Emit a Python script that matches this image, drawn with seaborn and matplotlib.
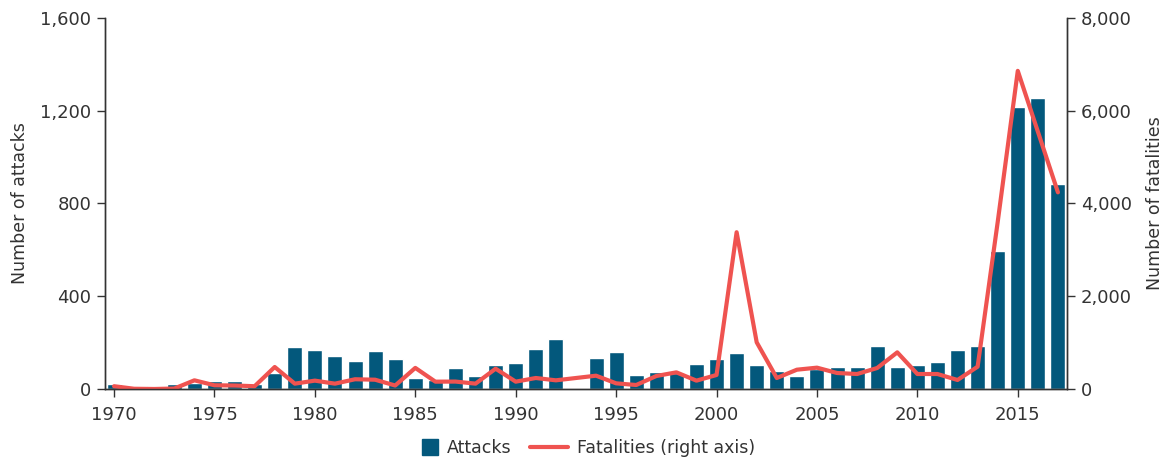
import numpy as np
import pandas as pd
import matplotlib
matplotlib.use('Agg')
import matplotlib.pyplot as plt
import matplotlib.patches as mpatches
import seaborn as sns
from matplotlib.lines import Line2D
from matplotlib.legend_handler import HandlerPatch
from matplotlib.ticker import FuncFormatter

# Data (1993 missing)
years = list(range(1970, 2018))
attacks = [20, 3, 11, 20, 25, 33, 33, 20, 69, 180,
           170, 144, 122, 165, 131, 49, 40, 92, 57, 105,
           113, 174, 217, np.nan, 135, 161, 62, 75, 70, 109,
           131, 157, 105, 79, 57, 88, 96, 96, 187, 96,
           105, 118, 170, 187, 597, 1218, 1256, 886]
fatalities = [60, 5, 0, 10, 187, 80, 75, 60, 474, 115,
              180, 115, 210, 200, 75, 455, 158, 160, 115, 438,
              158, 237, 187, np.nan, 287, 122, 86, 280, 359, 180,
              302, 3380, 1006, 237, 416, 460, 345, 323, 453, 790,
              323, 323, 194, 481, 3600, 6860, 5550, 4240]

df = pd.DataFrame({'year': years, 'attacks': attacks, 'fatalities': fatalities})

BAR = '#03587C'
LINE = '#EF5350'
TXT = '#333333'

sns.set_style('ticks')
plt.rcParams['font.family'] = ['DejaVu Sans']
plt.rcParams['text.color'] = TXT
plt.rcParams['axes.labelcolor'] = TXT
plt.rcParams['xtick.color'] = TXT
plt.rcParams['ytick.color'] = TXT

fig = plt.figure(figsize=(11.76, 4.61), dpi=100)
ax = fig.add_axes([0.0893, 0.1562, 0.818, 0.8048])

sns.barplot(data=df.dropna(subset=['attacks']), x='year', y='attacks',
            native_scale=True, width=0.75, color=BAR, saturation=1, ax=ax)
ax.set_xlim(1969.55, 2017.45)
ax.set_ylim(0, 1600)
ax.set_yticks([0, 400, 800, 1200, 1600])
ax.set_xticks(range(1970, 2016, 5))
ax.yaxis.set_major_formatter(FuncFormatter(lambda v, p: f'{int(v):,}'))
ax.set_ylabel('Number of attacks', fontsize=12.5, labelpad=8)
ax.set_xlabel('')

ax2 = ax.twinx()
sns.lineplot(data=df.dropna(subset=['fatalities']), x='year', y='fatalities',
             color=LINE, linewidth=3, ax=ax2)
ax2.set_ylim(0, 8000)
ax2.set_yticks([0, 2000, 4000, 6000, 8000])
ax2.yaxis.set_major_formatter(FuncFormatter(lambda v, p: f'{int(v):,}'))
ax2.set_ylabel('Number of fatalities', fontsize=12.5, labelpad=10)
ax2.set_xlim(1969.55, 2017.45)

for a in (ax, ax2):
    a.spines['top'].set_visible(False)
    for s in a.spines.values():
        s.set_color('#333333')
        s.set_linewidth(1)
    a.tick_params(axis='y', labelsize=13, length=6, width=1, pad=4, color='#333333')
    a.tick_params(axis='x', labelsize=13, length=5.5, width=1, pad=7, color='#333333')
ax.spines['right'].set_visible(True)


def square_patch(legend, orig_handle, xdescent, ydescent, width, height, fontsize):
    s = 11.5
    return mpatches.Rectangle((-xdescent + width - s, -ydescent + height / 2 - s / 2), s, s)


handles = [mpatches.Patch(color=BAR),
           Line2D([], [], color=LINE, linewidth=3)]
fig.legend(handles, ['Attacks', 'Fatalities (right axis)'], loc='center',
           bbox_to_anchor=(0.491, 0.028), ncol=2, frameon=False, fontsize=12.5,
           handlelength=2.2, handletextpad=0.5, columnspacing=1.1,
           handler_map={mpatches.Patch: HandlerPatch(patch_func=square_patch)})

fig.savefig('out.png', dpi=100)
